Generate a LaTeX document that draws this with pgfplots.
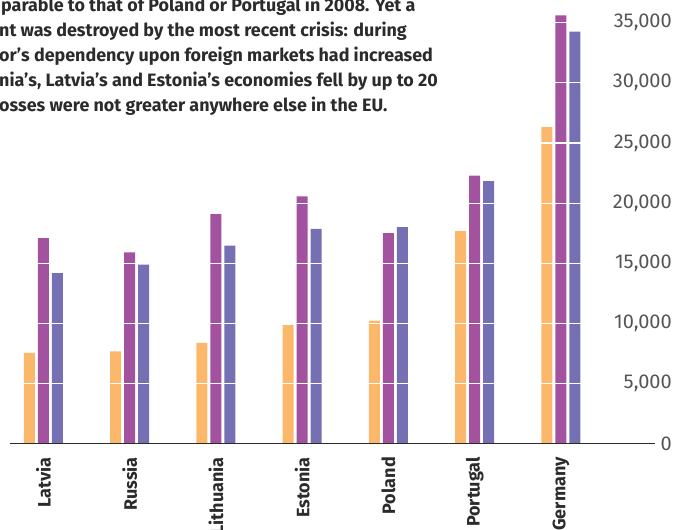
\documentclass[border=0pt]{standalone}
\usepackage{fontspec}
\setmainfont{Fira Sans}
\usepackage{pgfplots}
\pgfplotsset{compat=1.18}
\definecolor{cOr}{HTML}{FBB86A}
\definecolor{cPu}{HTML}{A3529F}
\definecolor{cBl}{HTML}{7570B3}
\definecolor{txt}{HTML}{2B2B2B}
\definecolor{tickc}{HTML}{555555}
\begin{document}
\begin{tikzpicture}[x=1pt,y=1pt]
\useasboundingbox (0,0) rectangle (675,530);
\clip (0,0) rectangle (675,530);
\begin{axis}[
  at={(10pt,86pt)}, anchor=south west,
  scale only axis, width=645pt, height=433.4pt,
  xmin=-0.388, xmax=7.09, ymin=0, ymax=36000,
  axis x line*=bottom, axis y line*=right,
  y axis line style={draw=none},
  x axis line style={txt, line width=1pt},
  xtick={0,...,6},
  xticklabels={Latvia,Russia,Lithuania,Estonia,Poland,Portugal,Germany},
  ytick={0,5000,...,35000},
  major tick length=0pt,
  ymajorgrids, major grid style={white, line width=1.2pt},
  axis on top,
  scaled y ticks=false,
  /pgf/number format/assume math mode=true,
  /pgf/number format/1000 sep={,},
  yticklabel style={anchor=east, inner sep=0pt, xshift=17pt, font=\fontsize{20}{20}\selectfont, text=tickc},
  xticklabel style={rotate=90, anchor=east, inner sep=0pt, font=\fontsize{18}{18}\selectfont\bfseries, text=txt},
  xticklabel shift=13pt,
  ybar, bar width=11pt,
]
\addplot[fill=cOr, draw=none, bar shift=-14pt] coordinates {(0,7560) (1,7700) (2,8390) (3,9880) (4,10240) (5,17690) (6,26330)};
\addplot[fill=cPu, draw=none, bar shift=0pt] coordinates {(0,17110) (1,15920) (2,19100) (3,20570) (4,17520) (5,22290) (6,35600)};
\addplot[fill=cBl, draw=none, bar shift=14pt] coordinates {(0,14200) (1,14890) (2,16470) (3,17860) (4,18020) (5,21840) (6,34250)};
\end{axis}
\begin{scope}[every node/.style={anchor=base west, inner sep=0pt, font=\fontsize{17.9}{18}\selectfont\bfseries, text=txt}]
\node at (1,518) {parable to that of Poland or Portugal in 2008. Yet a};
\node at (-1,493) {nt was destroyed by the most recent crisis: during};
\node at (-1,468) {or’s dependency upon foreign markets had increased};
\node at (-1,443) {nia’s, Latvia’s and Estonia’s economies fell by up to 20};
\node at (-1,418) {osses were not greater anywhere else in the EU.};
\end{scope}
\end{tikzpicture}
\end{document}
